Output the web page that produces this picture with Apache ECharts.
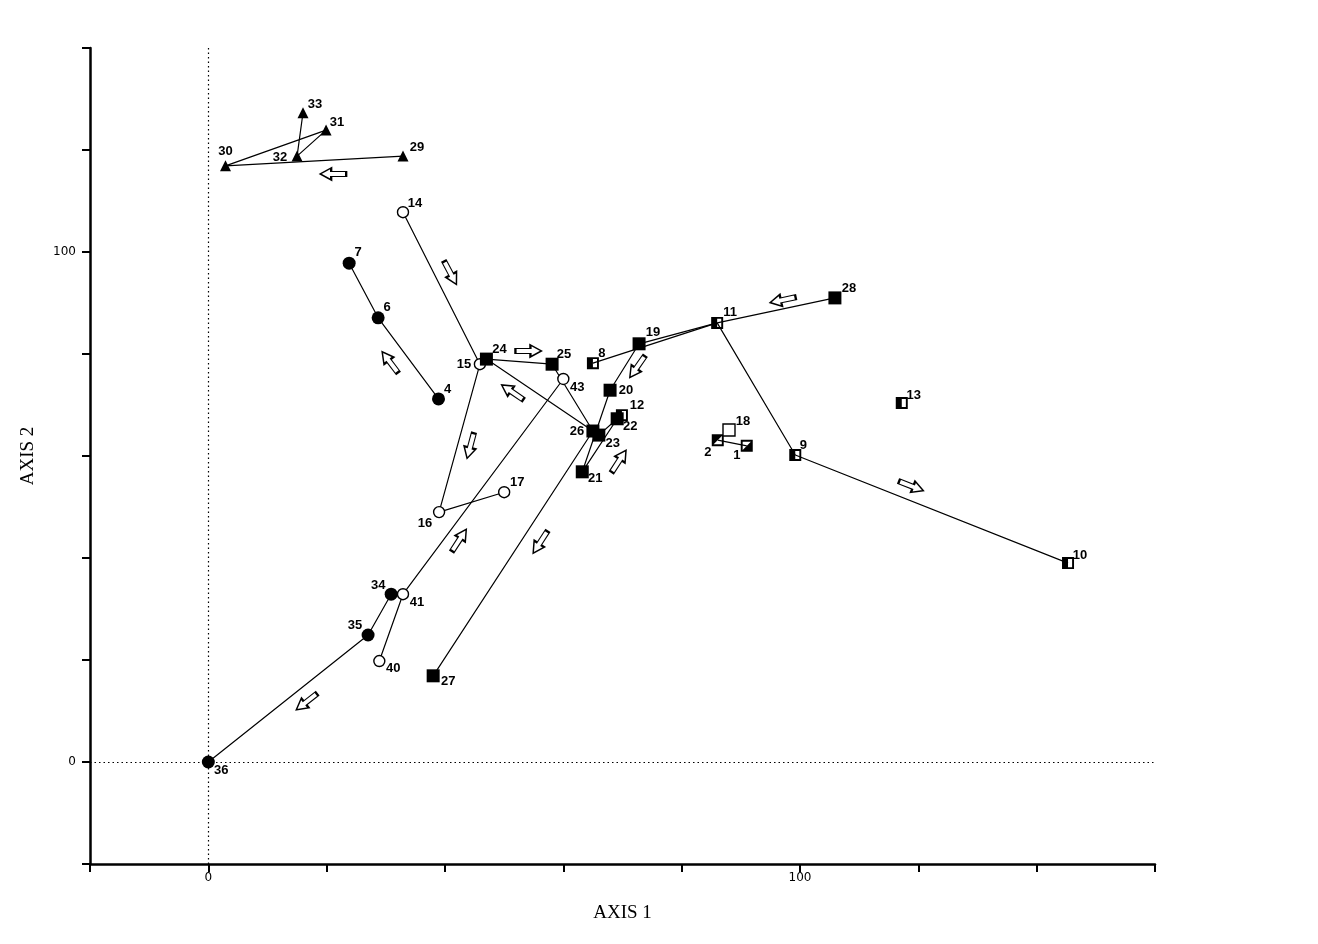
<!DOCTYPE html>
<html><head><meta charset="utf-8">
<script src="https://cdn.jsdelivr.net/npm/echarts@6/dist/echarts.min.js"></script>
<style>html,body{margin:0;padding:0;background:#fff}#c{width:1318px;height:944px}</style>
</head><body><div id="c"></div>
<script>
// ---- data ----
const triangleIds = [29, 30, 31, 32, 33];
const triangleX   = [32.9, 2.9, 19.9, 15.0, 16.0];
const triangleY   = [118.8, 116.9, 123.9, 118.8, 127.3];

const filledCircleIds = [4, 6, 7, 34, 35, 36];
const filledCircleX   = [38.9, 28.7, 23.8, 30.9, 27.0, 0];
const filledCircleY   = [71.2, 87.1, 97.8, 32.9, 24.9, 0];

const openCircleIds = [14, 15, 16, 17, 40, 41, 43];
const openCircleX   = [32.9, 45.9, 39.0, 50.0, 28.9, 32.9, 60.0];
const openCircleY   = [107.8, 78.0, 49.0, 52.9, 19.8, 32.9, 75.1];

const filledSquareIds = [19, 20, 21, 22, 23, 24, 25, 26, 27, 28];
const filledSquareX   = [72.8, 67.9, 63.2, 69.1, 66.0, 47.0, 58.1, 65.0, 38.0, 105.9];
const filledSquareY   = [82.0, 72.9, 56.9, 67.3, 64.1, 79.0, 78.0, 64.9, 16.9, 91.0];

const halfSquareIds = [1, 2, 8, 9, 10, 11, 12, 13];
const halfSquareX   = [91.0, 86.1, 65.0, 99.2, 145.3, 86.0, 69.9, 117.2];
const halfSquareY   = [62.0, 63.1, 78.2, 60.2, 39.0, 86.1, 68.0, 70.4];

const openSquareIds = [18];
const openSquareX   = [88.0];
const openSquareY   = [65.1];

// trajectories (sequences of point ids joined by lines)
const chains = [
  [29, 30, 31, 32, 33],
  [7, 6, 4],
  [34, 35, 36],
  [14, 15, 16, 17],
  [40, 41, 43],
  [19, 20, 21, 22, 23, 24, 25, 26, 27],
  [28, 11],
  [8, 11],
  [19, 11],
  [11, 9, 10],
  [1, 2]
];

// direction arrows (data position, screen angle in degrees)
const arrowX     = [21.1, 40.9, 30.7, 54.1, 51.4, 44.3, 72.5, 97.1, 118.8, 69.4, 42.4, 56.1, 16.6];
const arrowY     = [115.3, 95.9, 78.4, 80.6, 72.5, 62.0, 77.5, 90.6, 54.1, 59.0, 43.5, 43.1, 11.8];
const arrowAngle = [180, -62, 127, 0, 146, -105, -125, -168, -21, 57, 57, -123, -142];

const xLabelled = [0, 100];
const yLabelled = [0, 100];

// ---- styling ----
const labelOffset = {
  29:[14,-9], 30:[0,-14], 31:[11,-8], 32:[-17,1], 33:[12,-8],
  7:[9,-11], 6:[9,-10], 4:[9,-9], 34:[-13,-9], 35:[-13,-10], 36:[13,8],
  14:[12,-9], 15:[-16,0], 16:[-14,11], 17:[13,-10], 40:[14,7], 41:[14,8], 43:[14,8],
  19:[14,-11], 20:[16,0], 21:[13,7], 22:[13,8], 23:[14,8], 24:[13,-10], 25:[12,-10],
  26:[-16,0], 27:[15,6], 28:[14,-9],
  1:[-10,10], 2:[-10,12], 18:[14,-9], 8:[9,-10], 9:[8,-10], 10:[12,-8], 11:[13,-10],
  12:[15,-10], 13:[12,-8]
};
const SYM_HALF = 'path://M0 0H10V10H0Z M5 1.6V8.4H8.4V1.6Z';
const SYM_DIAG_LR = 'path://M0 0H10V10H0Z M1.6 1.6V8.4L8.4 1.6Z';
const SYM_DIAG_UL = 'path://M0 0H10V10H0Z M8.4 1.6L1.6 8.4H8.4Z';
const halfSymbol = {1: SYM_DIAG_LR, 2: SYM_DIAG_UL};
const ARROW = 'path://M0 3.5H15V0L26 6L15 12V8.5H0Z';

const coord = {};
function reg(ids, xs, ys){ ids.forEach((id,i)=>{ coord[id] = [xs[i], ys[i]]; }); }
reg(triangleIds, triangleX, triangleY);
reg(filledCircleIds, filledCircleX, filledCircleY);
reg(openCircleIds, openCircleX, openCircleY);
reg(filledSquareIds, filledSquareX, filledSquareY);
reg(halfSquareIds, halfSquareX, halfSquareY);
reg(openSquareIds, openSquareX, openSquareY);

const labelBase = {
  show: true, position: 'inside', color: '#000', fontFamily: 'Liberation Sans, Arial, sans-serif',
  fontWeight: 'bold', fontSize: 13, textBorderWidth: 0, opacity: 1,
  formatter: p => String(p.value[2])
};

function pointSeries(ids, xs, ys, opts){
  const s = Object.assign({
    type: 'scatter', z: 5,
    data: ids.map((id,i)=>{
      const item = { value: [xs[i], ys[i], id],
        label: Object.assign({}, labelBase, { offset: labelOffset[id] || [12,-9] }) };
      if (opts.symbolFor) item.symbol = opts.symbolFor(id);
      return item;
    }),
    label: labelBase,
    emphasis: { disabled: true }
  }, opts.base);
  s.itemStyle = Object.assign({ opacity: 1 }, s.itemStyle);
  return s;
}

const series = [];

// lines
chains.forEach(ch => {
  series.push({
    type: 'line', z: 2, symbol: 'none', silent: true, animation: false,
    data: ch.map(id => coord[id]),
    lineStyle: { color: '#000', width: 1.2, opacity: 1 }
  });
});

// dotted zero lines
series.push({
  type: 'line', data: [], silent: true,
  markLine: {
    silent: true, symbol: 'none', label: { show: false },
    lineStyle: { color: '#000', type: [1.5, 3], width: 1.2, opacity: 1 },
    data: [{ xAxis: 0 }, { yAxis: 0 }]
  }
});

series.push(pointSeries(triangleIds, triangleX, triangleY, { base: {
  symbol: 'triangle', symbolSize: 11, itemStyle: { color: '#000' } } }));
series.push(pointSeries(filledCircleIds, filledCircleX, filledCircleY, { base: {
  symbol: 'circle', symbolSize: 13, itemStyle: { color: '#000' } } }));
series.push(pointSeries(openCircleIds, openCircleX, openCircleY, { base: {
  symbol: 'circle', symbolSize: 11, itemStyle: { color: '#fff', borderColor: '#000', borderWidth: 1.4 } } }));
series.push(pointSeries(filledSquareIds, filledSquareX, filledSquareY, { base: {
  symbol: 'rect', symbolSize: 13, itemStyle: { color: '#000' } } }));
series.push(pointSeries(halfSquareIds, halfSquareX, halfSquareY, {
  symbolFor: id => halfSymbol[id] || SYM_HALF,
  base: { symbolSize: 12, itemStyle: { color: '#000' } } }));
series.push(pointSeries(openSquareIds, openSquareX, openSquareY, { base: {
  symbol: 'rect', symbolSize: 12, itemStyle: { color: '#fff', borderColor: '#000', borderWidth: 1.4 } } }));

// arrows
series.push({
  type: 'scatter', z: 4, silent: true,
  data: arrowX.map((x,i)=>({ value: [x, arrowY[i]], symbolRotate: arrowAngle[i] })),
  symbol: ARROW, symbolSize: [26, 12],
  itemStyle: { color: '#fff', borderColor: '#000', borderWidth: 1.6, opacity: 1 }
});

const chart = echarts.init(document.getElementById('c'), null, { renderer: 'canvas' });
chart.setOption({
  animation: false,
  backgroundColor: '#fff',
  grid: { left: 90, right: 163, top: 48, bottom: 80, containLabel: false },
  xAxis: {
    type: 'value', min: -20, max: 160, interval: 20,
    name: 'AXIS 1', nameLocation: 'middle', nameGap: 40,
    nameTextStyle: { fontFamily: 'Liberation Serif, Times New Roman, serif', fontSize: 19, color: '#000' },
    axisLine: { show: true, onZero: false, lineStyle: { color: '#000', width: 2.5 } },
    axisTick: { show: true, length: 8, lineStyle: { color: '#000', width: 2 } },
    axisLabel: { color: '#000', fontSize: 12, margin: 8, fontFamily: 'DejaVu Sans, sans-serif',
      formatter: v => xLabelled.includes(v) ? String(v) : '' },
    splitLine: { show: false }
  },
  yAxis: {
    type: 'value', min: -20, max: 140, interval: 20,
    name: 'AXIS 2', nameLocation: 'middle', nameGap: 52, nameRotate: 90,
    nameTextStyle: { fontFamily: 'Liberation Serif, Times New Roman, serif', fontSize: 19, color: '#000' },
    axisLine: { show: true, onZero: false, lineStyle: { color: '#000', width: 2.5 } },
    axisTick: { show: true, length: 8, lineStyle: { color: '#000', width: 2 } },
    axisLabel: { color: '#000', fontSize: 12, margin: 14, fontFamily: 'DejaVu Sans, sans-serif',
      formatter: v => yLabelled.includes(v) ? String(v) : '' },
    splitLine: { show: false }
  },
  series: series
});
</script>
</body></html>
